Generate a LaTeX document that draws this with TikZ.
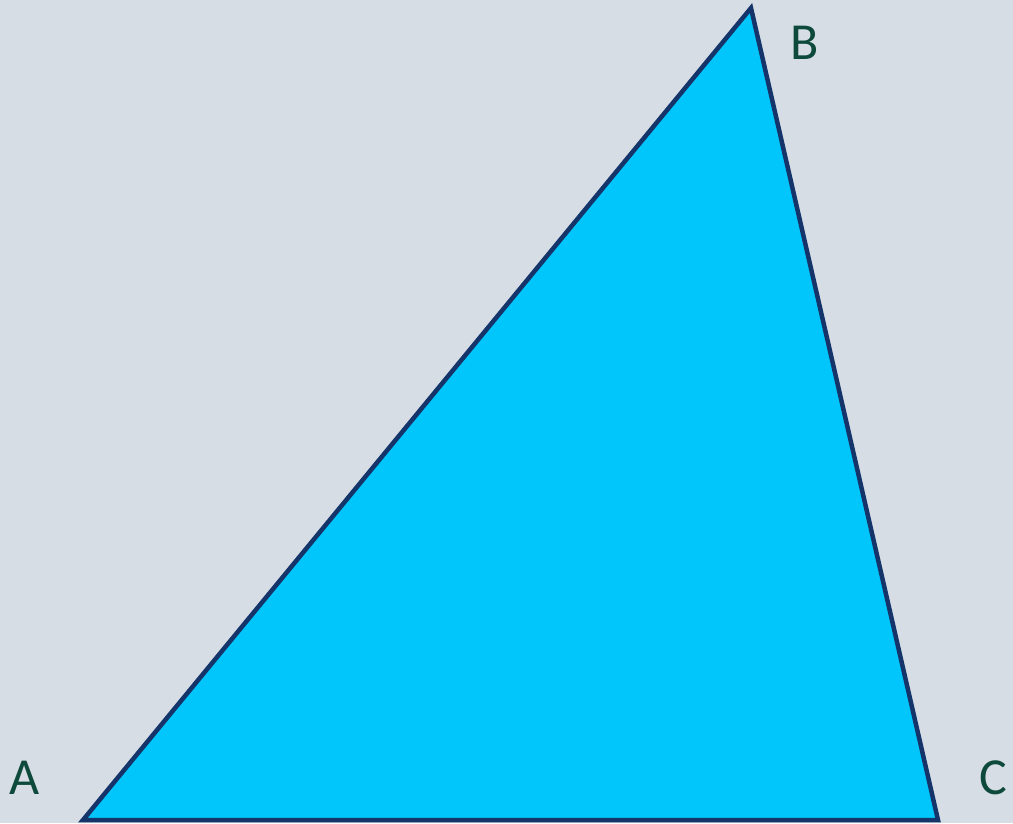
\documentclass[tikz,border=0pt]{standalone}
\usepackage{fontspec}
\setmainfont{Carlito}
\definecolor{bgcol}{HTML}{D6DDE5}
\definecolor{fillcol}{HTML}{00C6FC}
\definecolor{edgecol}{HTML}{14346A}
\definecolor{labcol}{HTML}{0D4A3C}
\tikzset{vlabel/.style={text=labcol,font=\fontsize{52}{52}\selectfont,inner sep=0pt}}
\begin{document}
\begin{tikzpicture}[x=1pt,y=1pt]
\useasboundingbox (0,0) rectangle (1013,823);
\fill[bgcol] (0,0) rectangle (1013,823);
\coordinate (A) at (83,3);
\coordinate (B) at (751,815);
\coordinate (C) at (938,3);
\filldraw[fill=fillcol,draw=edgecol,line width=4.5pt,line join=miter] (A) -- (B) -- (C) -- cycle;
\node[vlabel] (la) at (25,45) {A};
\node[vlabel] (lb) at (805,780) {B};
\node[vlabel] (lc) at (993,45) {C};
\end{tikzpicture}
\end{document}
